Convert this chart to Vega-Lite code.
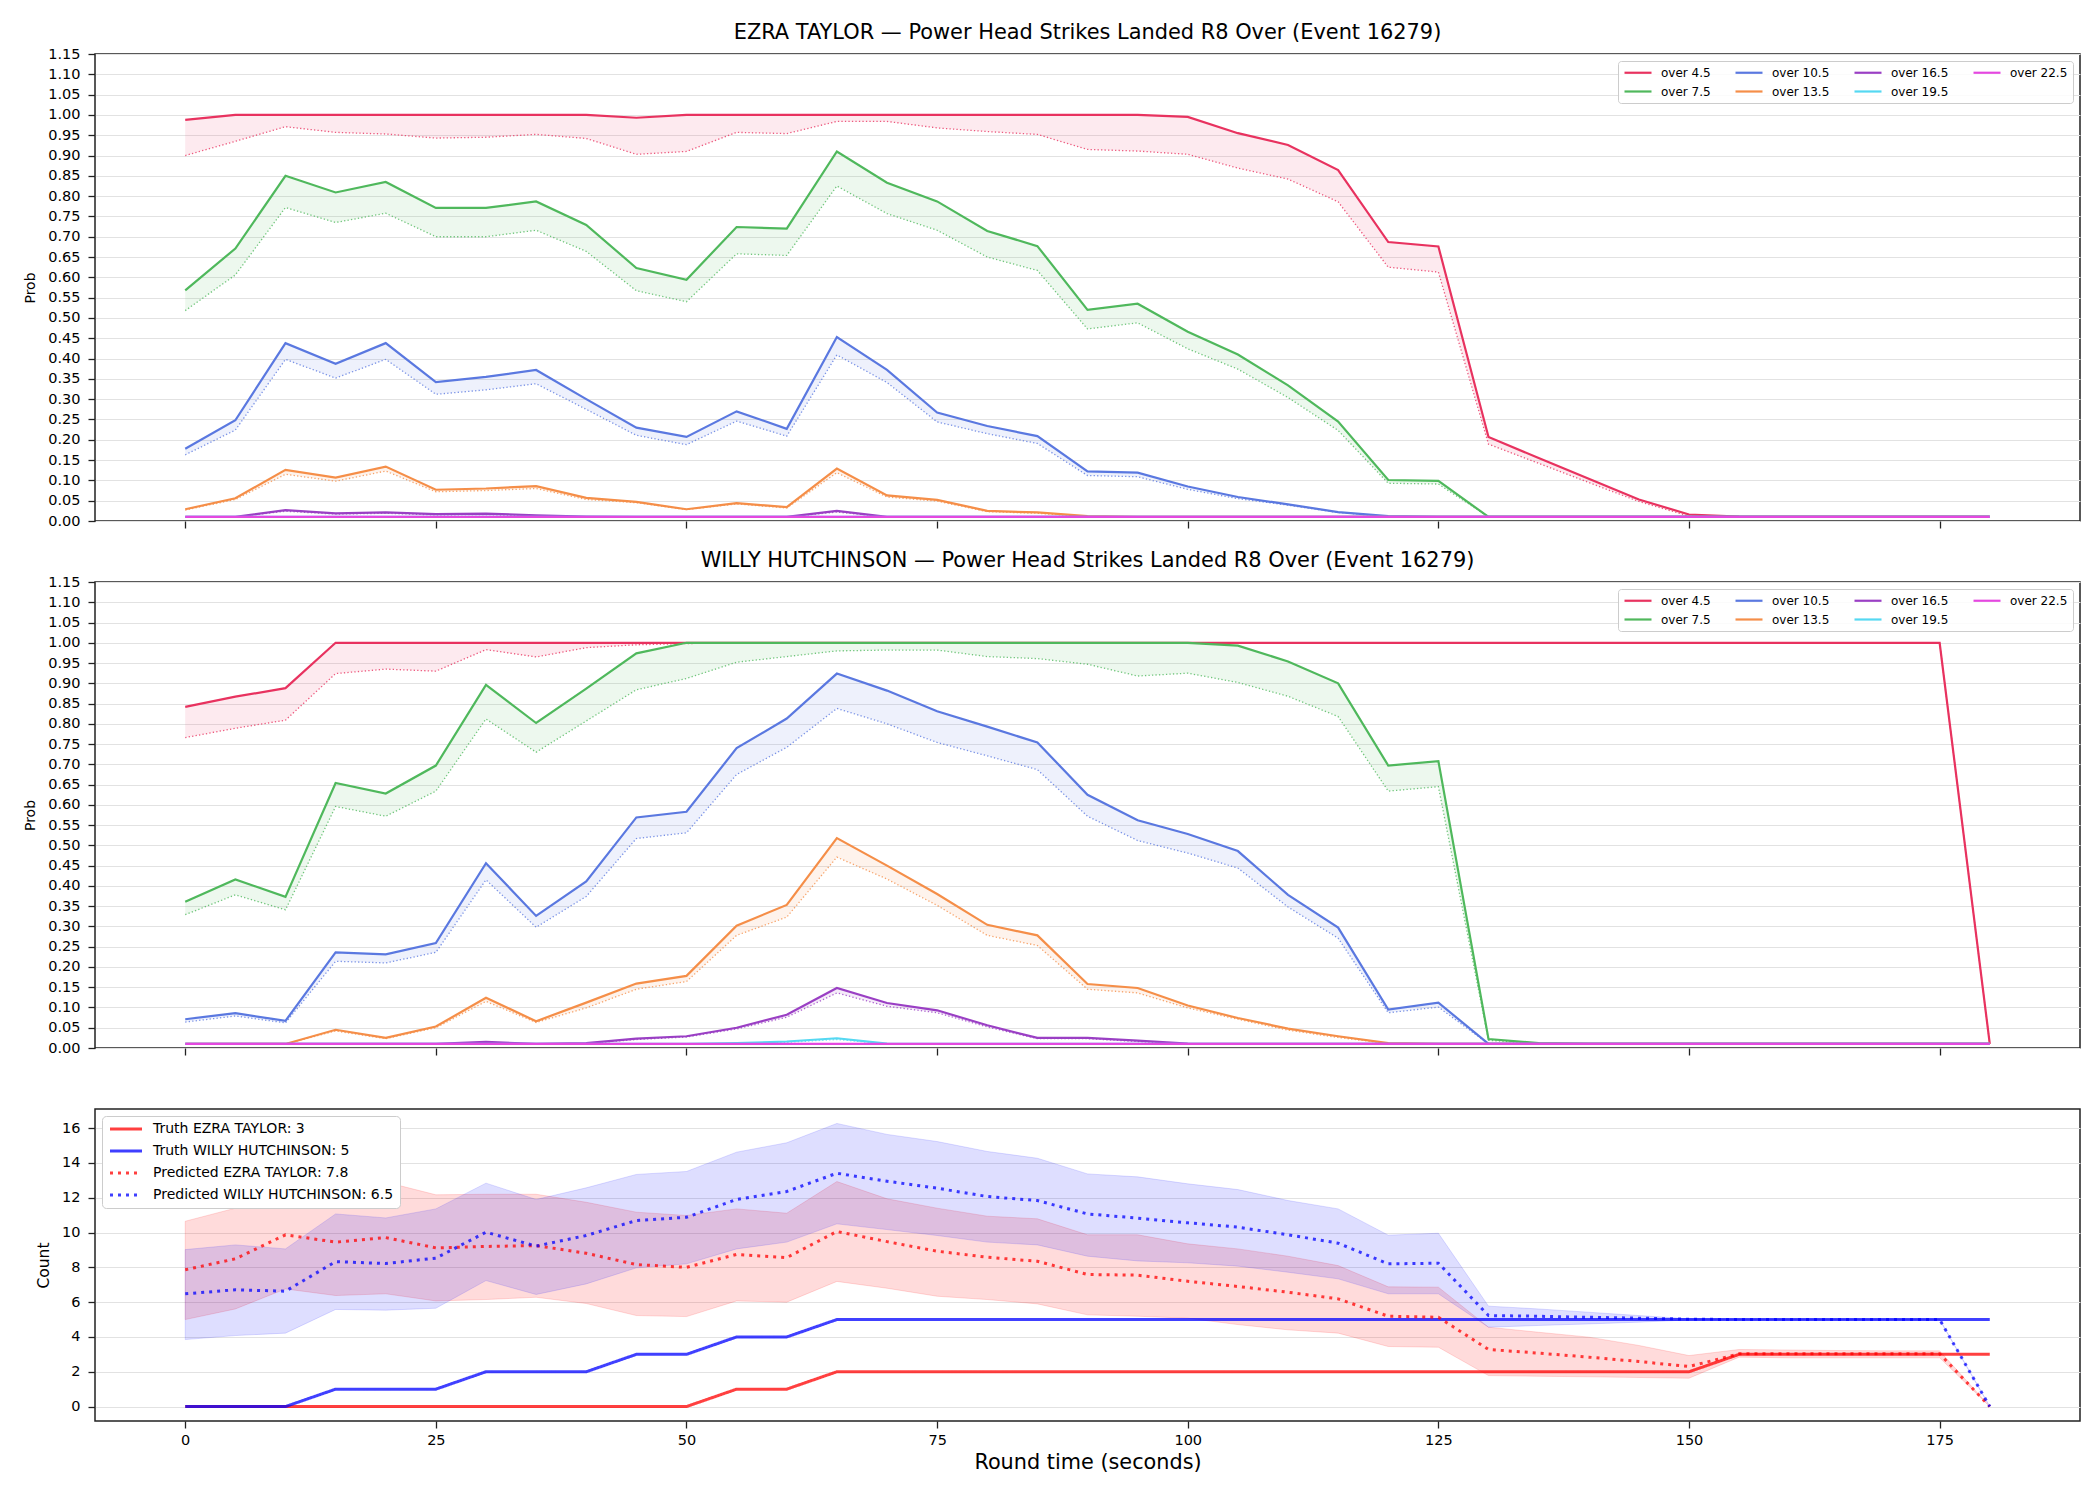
{
"$schema": "https://vega.github.io/schema/vega-lite/v6.json",
"background": "white",
"padding": {"left": 22, "top": 21, "right": 5, "bottom": 5},
"config": {
 "font": "DejaVu Sans",
 "view": {"stroke": "#222222", "strokeWidth": 1.5},
 "axis": {"labelFont": "DejaVu Sans", "titleFont": "DejaVu Sans", "labelColor": "#000000", "titleColor": "#000000", "tickColor": "#222222", "tickWidth": 1.3, "tickSize": 7, "labelPadding": 8, "domain": false, "gridColor": "#e2e2e2", "gridWidth": 1, "titleFontWeight": "normal", "labelFontSize": 14.5, "titleFontSize": 14, "labelOverlap": false, "labelBound": false, "labelFlush": false},
 "title": {"font": "DejaVu Sans", "fontSize": 20.9, "fontWeight": "normal", "color": "#000000", "frame": "group", "anchor": "middle"}
},
"datasets": {
"ezra": [
{"k":"over 4.5","t":0,"v":0.988,"l":0.9},{"k":"over 4.5","t":5,"v":1,"l":0.935},{"k":"over 4.5","t":10,"v":1,"l":0.971},{"k":"over 4.5","t":15,"v":1,"l":0.957},{"k":"over 4.5","t":20,"v":1,"l":0.953},{"k":"over 4.5","t":25,"v":1,"l":0.943},{"k":"over 4.5","t":30,"v":1,"l":0.945},{"k":"over 4.5","t":35,"v":1,"l":0.952},{"k":"over 4.5","t":40,"v":1,"l":0.942},{"k":"over 4.5","t":45,"v":0.993,"l":0.903},{"k":"over 4.5","t":50,"v":1,"l":0.91},{"k":"over 4.5","t":55,"v":1,"l":0.957},{"k":"over 4.5","t":60,"v":1,"l":0.954},{"k":"over 4.5","t":65,"v":1,"l":0.984},{"k":"over 4.5","t":70,"v":1,"l":0.984},{"k":"over 4.5","t":75,"v":1,"l":0.968},{"k":"over 4.5","t":80,"v":1,"l":0.959},{"k":"over 4.5","t":85,"v":1,"l":0.952},{"k":"over 4.5","t":90,"v":1,"l":0.915},{"k":"over 4.5","t":95,"v":1,"l":0.911},{"k":"over 4.5","t":100,"v":0.995,"l":0.903},{"k":"over 4.5","t":105,"v":0.955,"l":0.869},{"k":"over 4.5","t":110,"v":0.926,"l":0.842},{"k":"over 4.5","t":115,"v":0.864,"l":0.786},{"k":"over 4.5","t":120,"v":0.687,"l":0.625},{"k":"over 4.5","t":125,"v":0.676,"l":0.613},{"k":"over 4.5","t":130,"v":0.207,"l":0.189},{"k":"over 4.5","t":135,"v":0.155,"l":0.142},{"k":"over 4.5","t":140,"v":0.104,"l":0.095},{"k":"over 4.5","t":145,"v":0.053,"l":0.048},{"k":"over 4.5","t":150,"v":0.016,"l":0.012},{"k":"over 4.5","t":155,"v":0.011,"l":0.01},{"k":"over 4.5","t":160,"v":0.01,"l":0.01},{"k":"over 4.5","t":165,"v":0.01,"l":0.01},{"k":"over 4.5","t":170,"v":0.01,"l":0.01},{"k":"over 4.5","t":175,"v":0.01,"l":0.01},{"k":"over 4.5","t":180,"v":0.01,"l":0.01},
{"k":"over 7.5","t":0,"v":0.568,"l":0.518},{"k":"over 7.5","t":5,"v":0.671,"l":0.606},{"k":"over 7.5","t":10,"v":0.85,"l":0.772},{"k":"over 7.5","t":15,"v":0.809,"l":0.735},{"k":"over 7.5","t":20,"v":0.835,"l":0.758},{"k":"over 7.5","t":25,"v":0.771,"l":0.7},{"k":"over 7.5","t":30,"v":0.771,"l":0.7},{"k":"over 7.5","t":35,"v":0.787,"l":0.716},{"k":"over 7.5","t":40,"v":0.729,"l":0.664},{"k":"over 7.5","t":45,"v":0.623,"l":0.567},{"k":"over 7.5","t":50,"v":0.594,"l":0.54},{"k":"over 7.5","t":55,"v":0.724,"l":0.658},{"k":"over 7.5","t":60,"v":0.72,"l":0.654},{"k":"over 7.5","t":65,"v":0.91,"l":0.825},{"k":"over 7.5","t":70,"v":0.833,"l":0.757},{"k":"over 7.5","t":75,"v":0.787,"l":0.716},{"k":"over 7.5","t":80,"v":0.714,"l":0.65},{"k":"over 7.5","t":85,"v":0.677,"l":0.617},{"k":"over 7.5","t":90,"v":0.52,"l":0.473},{"k":"over 7.5","t":95,"v":0.535,"l":0.488},{"k":"over 7.5","t":100,"v":0.466,"l":0.424},{"k":"over 7.5","t":105,"v":0.41,"l":0.374},{"k":"over 7.5","t":110,"v":0.334,"l":0.304},{"k":"over 7.5","t":115,"v":0.245,"l":0.223},{"k":"over 7.5","t":120,"v":0.101,"l":0.093},{"k":"over 7.5","t":125,"v":0.099,"l":0.091},{"k":"over 7.5","t":130,"v":0.01,"l":0.01},{"k":"over 7.5","t":135,"v":0.01,"l":0.01},{"k":"over 7.5","t":140,"v":0.01,"l":0.01},{"k":"over 7.5","t":145,"v":0.01,"l":0.01},{"k":"over 7.5","t":150,"v":0.01,"l":0.01},{"k":"over 7.5","t":155,"v":0.01,"l":0.01},{"k":"over 7.5","t":160,"v":0.01,"l":0.01},{"k":"over 7.5","t":165,"v":0.01,"l":0.01},{"k":"over 7.5","t":170,"v":0.01,"l":0.01},{"k":"over 7.5","t":175,"v":0.01,"l":0.01},{"k":"over 7.5","t":180,"v":0.01,"l":0.01},
{"k":"over 10.5","t":0,"v":0.178,"l":0.163},{"k":"over 10.5","t":5,"v":0.248,"l":0.224},{"k":"over 10.5","t":10,"v":0.438,"l":0.398},{"k":"over 10.5","t":15,"v":0.387,"l":0.352},{"k":"over 10.5","t":20,"v":0.438,"l":0.398},{"k":"over 10.5","t":25,"v":0.342,"l":0.312},{"k":"over 10.5","t":30,"v":0.355,"l":0.323},{"k":"over 10.5","t":35,"v":0.372,"l":0.338},{"k":"over 10.5","t":40,"v":0.3,"l":0.275},{"k":"over 10.5","t":45,"v":0.23,"l":0.211},{"k":"over 10.5","t":50,"v":0.207,"l":0.188},{"k":"over 10.5","t":55,"v":0.27,"l":0.246},{"k":"over 10.5","t":60,"v":0.227,"l":0.209},{"k":"over 10.5","t":65,"v":0.453,"l":0.409},{"k":"over 10.5","t":70,"v":0.372,"l":0.341},{"k":"over 10.5","t":75,"v":0.267,"l":0.244},{"k":"over 10.5","t":80,"v":0.234,"l":0.215},{"k":"over 10.5","t":85,"v":0.209,"l":0.191},{"k":"over 10.5","t":90,"v":0.122,"l":0.112},{"k":"over 10.5","t":95,"v":0.119,"l":0.109},{"k":"over 10.5","t":100,"v":0.085,"l":0.078},{"k":"over 10.5","t":105,"v":0.059,"l":0.055},{"k":"over 10.5","t":110,"v":0.041,"l":0.039},{"k":"over 10.5","t":115,"v":0.022,"l":0.021},{"k":"over 10.5","t":120,"v":0.012,"l":0.011},{"k":"over 10.5","t":125,"v":0.01,"l":0.01},{"k":"over 10.5","t":130,"v":0.01,"l":0.01},{"k":"over 10.5","t":135,"v":0.01,"l":0.01},{"k":"over 10.5","t":140,"v":0.01,"l":0.01},{"k":"over 10.5","t":145,"v":0.01,"l":0.01},{"k":"over 10.5","t":150,"v":0.01,"l":0.01},{"k":"over 10.5","t":155,"v":0.01,"l":0.01},{"k":"over 10.5","t":160,"v":0.01,"l":0.01},{"k":"over 10.5","t":165,"v":0.01,"l":0.01},{"k":"over 10.5","t":170,"v":0.01,"l":0.01},{"k":"over 10.5","t":175,"v":0.01,"l":0.01},{"k":"over 10.5","t":180,"v":0.01,"l":0.01},
{"k":"over 13.5","t":0,"v":0.029,"l":0.027},{"k":"over 13.5","t":5,"v":0.056,"l":0.053},{"k":"over 13.5","t":10,"v":0.126,"l":0.115},{"k":"over 13.5","t":15,"v":0.107,"l":0.098},{"k":"over 13.5","t":20,"v":0.134,"l":0.123},{"k":"over 13.5","t":25,"v":0.077,"l":0.072},{"k":"over 13.5","t":30,"v":0.08,"l":0.075},{"k":"over 13.5","t":35,"v":0.086,"l":0.08},{"k":"over 13.5","t":40,"v":0.057,"l":0.053},{"k":"over 13.5","t":45,"v":0.047,"l":0.045},{"k":"over 13.5","t":50,"v":0.029,"l":0.028},{"k":"over 13.5","t":55,"v":0.044,"l":0.042},{"k":"over 13.5","t":60,"v":0.034,"l":0.032},{"k":"over 13.5","t":65,"v":0.129,"l":0.119},{"k":"over 13.5","t":70,"v":0.063,"l":0.059},{"k":"over 13.5","t":75,"v":0.052,"l":0.049},{"k":"over 13.5","t":80,"v":0.025,"l":0.023},{"k":"over 13.5","t":85,"v":0.021,"l":0.019},{"k":"over 13.5","t":90,"v":0.012,"l":0.011},{"k":"over 13.5","t":95,"v":0.01,"l":0.01},{"k":"over 13.5","t":100,"v":0.01,"l":0.01},{"k":"over 13.5","t":105,"v":0.01,"l":0.01},{"k":"over 13.5","t":110,"v":0.01,"l":0.01},{"k":"over 13.5","t":115,"v":0.01,"l":0.01},{"k":"over 13.5","t":120,"v":0.01,"l":0.01},{"k":"over 13.5","t":125,"v":0.01,"l":0.01},{"k":"over 13.5","t":130,"v":0.01,"l":0.01},{"k":"over 13.5","t":135,"v":0.01,"l":0.01},{"k":"over 13.5","t":140,"v":0.01,"l":0.01},{"k":"over 13.5","t":145,"v":0.01,"l":0.01},{"k":"over 13.5","t":150,"v":0.01,"l":0.01},{"k":"over 13.5","t":155,"v":0.01,"l":0.01},{"k":"over 13.5","t":160,"v":0.01,"l":0.01},{"k":"over 13.5","t":165,"v":0.01,"l":0.01},{"k":"over 13.5","t":170,"v":0.01,"l":0.01},{"k":"over 13.5","t":175,"v":0.01,"l":0.01},{"k":"over 13.5","t":180,"v":0.01,"l":0.01},
{"k":"over 16.5","t":0,"v":0.01,"l":0.01},{"k":"over 16.5","t":5,"v":0.01,"l":0.01},{"k":"over 16.5","t":10,"v":0.027,"l":0.024},{"k":"over 16.5","t":15,"v":0.019,"l":0.017},{"k":"over 16.5","t":20,"v":0.021,"l":0.019},{"k":"over 16.5","t":25,"v":0.017,"l":0.015},{"k":"over 16.5","t":30,"v":0.018,"l":0.016},{"k":"over 16.5","t":35,"v":0.014,"l":0.012},{"k":"over 16.5","t":40,"v":0.011,"l":0.01},{"k":"over 16.5","t":45,"v":0.01,"l":0.01},{"k":"over 16.5","t":50,"v":0.01,"l":0.01},{"k":"over 16.5","t":55,"v":0.01,"l":0.01},{"k":"over 16.5","t":60,"v":0.01,"l":0.01},{"k":"over 16.5","t":65,"v":0.025,"l":0.022},{"k":"over 16.5","t":70,"v":0.01,"l":0.01},{"k":"over 16.5","t":75,"v":0.01,"l":0.01},{"k":"over 16.5","t":80,"v":0.01,"l":0.01},{"k":"over 16.5","t":85,"v":0.01,"l":0.01},{"k":"over 16.5","t":90,"v":0.01,"l":0.01},{"k":"over 16.5","t":95,"v":0.01,"l":0.01},{"k":"over 16.5","t":100,"v":0.01,"l":0.01},{"k":"over 16.5","t":105,"v":0.01,"l":0.01},{"k":"over 16.5","t":110,"v":0.01,"l":0.01},{"k":"over 16.5","t":115,"v":0.01,"l":0.01},{"k":"over 16.5","t":120,"v":0.01,"l":0.01},{"k":"over 16.5","t":125,"v":0.01,"l":0.01},{"k":"over 16.5","t":130,"v":0.01,"l":0.01},{"k":"over 16.5","t":135,"v":0.01,"l":0.01},{"k":"over 16.5","t":140,"v":0.01,"l":0.01},{"k":"over 16.5","t":145,"v":0.01,"l":0.01},{"k":"over 16.5","t":150,"v":0.01,"l":0.01},{"k":"over 16.5","t":155,"v":0.01,"l":0.01},{"k":"over 16.5","t":160,"v":0.01,"l":0.01},{"k":"over 16.5","t":165,"v":0.01,"l":0.01},{"k":"over 16.5","t":170,"v":0.01,"l":0.01},{"k":"over 16.5","t":175,"v":0.01,"l":0.01},{"k":"over 16.5","t":180,"v":0.01,"l":0.01},
{"k":"over 19.5","t":0,"v":0.01,"l":0.01},{"k":"over 19.5","t":5,"v":0.01,"l":0.01},{"k":"over 19.5","t":10,"v":0.01,"l":0.01},{"k":"over 19.5","t":15,"v":0.01,"l":0.01},{"k":"over 19.5","t":20,"v":0.01,"l":0.01},{"k":"over 19.5","t":25,"v":0.01,"l":0.01},{"k":"over 19.5","t":30,"v":0.01,"l":0.01},{"k":"over 19.5","t":35,"v":0.01,"l":0.01},{"k":"over 19.5","t":40,"v":0.01,"l":0.01},{"k":"over 19.5","t":45,"v":0.01,"l":0.01},{"k":"over 19.5","t":50,"v":0.01,"l":0.01},{"k":"over 19.5","t":55,"v":0.01,"l":0.01},{"k":"over 19.5","t":60,"v":0.01,"l":0.01},{"k":"over 19.5","t":65,"v":0.01,"l":0.01},{"k":"over 19.5","t":70,"v":0.01,"l":0.01},{"k":"over 19.5","t":75,"v":0.01,"l":0.01},{"k":"over 19.5","t":80,"v":0.01,"l":0.01},{"k":"over 19.5","t":85,"v":0.01,"l":0.01},{"k":"over 19.5","t":90,"v":0.01,"l":0.01},{"k":"over 19.5","t":95,"v":0.01,"l":0.01},{"k":"over 19.5","t":100,"v":0.01,"l":0.01},{"k":"over 19.5","t":105,"v":0.01,"l":0.01},{"k":"over 19.5","t":110,"v":0.01,"l":0.01},{"k":"over 19.5","t":115,"v":0.01,"l":0.01},{"k":"over 19.5","t":120,"v":0.01,"l":0.01},{"k":"over 19.5","t":125,"v":0.01,"l":0.01},{"k":"over 19.5","t":130,"v":0.01,"l":0.01},{"k":"over 19.5","t":135,"v":0.01,"l":0.01},{"k":"over 19.5","t":140,"v":0.01,"l":0.01},{"k":"over 19.5","t":145,"v":0.01,"l":0.01},{"k":"over 19.5","t":150,"v":0.01,"l":0.01},{"k":"over 19.5","t":155,"v":0.01,"l":0.01},{"k":"over 19.5","t":160,"v":0.01,"l":0.01},{"k":"over 19.5","t":165,"v":0.01,"l":0.01},{"k":"over 19.5","t":170,"v":0.01,"l":0.01},{"k":"over 19.5","t":175,"v":0.01,"l":0.01},{"k":"over 19.5","t":180,"v":0.01,"l":0.01},
{"k":"over 22.5","t":0,"v":0.01,"l":0.01},{"k":"over 22.5","t":5,"v":0.01,"l":0.01},{"k":"over 22.5","t":10,"v":0.01,"l":0.01},{"k":"over 22.5","t":15,"v":0.01,"l":0.01},{"k":"over 22.5","t":20,"v":0.01,"l":0.01},{"k":"over 22.5","t":25,"v":0.01,"l":0.01},{"k":"over 22.5","t":30,"v":0.01,"l":0.01},{"k":"over 22.5","t":35,"v":0.01,"l":0.01},{"k":"over 22.5","t":40,"v":0.01,"l":0.01},{"k":"over 22.5","t":45,"v":0.01,"l":0.01},{"k":"over 22.5","t":50,"v":0.01,"l":0.01},{"k":"over 22.5","t":55,"v":0.01,"l":0.01},{"k":"over 22.5","t":60,"v":0.01,"l":0.01},{"k":"over 22.5","t":65,"v":0.01,"l":0.01},{"k":"over 22.5","t":70,"v":0.01,"l":0.01},{"k":"over 22.5","t":75,"v":0.01,"l":0.01},{"k":"over 22.5","t":80,"v":0.01,"l":0.01},{"k":"over 22.5","t":85,"v":0.01,"l":0.01},{"k":"over 22.5","t":90,"v":0.01,"l":0.01},{"k":"over 22.5","t":95,"v":0.01,"l":0.01},{"k":"over 22.5","t":100,"v":0.01,"l":0.01},{"k":"over 22.5","t":105,"v":0.01,"l":0.01},{"k":"over 22.5","t":110,"v":0.01,"l":0.01},{"k":"over 22.5","t":115,"v":0.01,"l":0.01},{"k":"over 22.5","t":120,"v":0.01,"l":0.01},{"k":"over 22.5","t":125,"v":0.01,"l":0.01},{"k":"over 22.5","t":130,"v":0.01,"l":0.01},{"k":"over 22.5","t":135,"v":0.01,"l":0.01},{"k":"over 22.5","t":140,"v":0.01,"l":0.01},{"k":"over 22.5","t":145,"v":0.01,"l":0.01},{"k":"over 22.5","t":150,"v":0.01,"l":0.01},{"k":"over 22.5","t":155,"v":0.01,"l":0.01},{"k":"over 22.5","t":160,"v":0.01,"l":0.01},{"k":"over 22.5","t":165,"v":0.01,"l":0.01},{"k":"over 22.5","t":170,"v":0.01,"l":0.01},{"k":"over 22.5","t":175,"v":0.01,"l":0.01},{"k":"over 22.5","t":180,"v":0.01,"l":0.01}
],
"willy": [
{"k":"over 4.5","t":0,"v":0.842,"l":0.766},{"k":"over 4.5","t":5,"v":0.867,"l":0.789},{"k":"over 4.5","t":10,"v":0.888,"l":0.809},{"k":"over 4.5","t":15,"v":1,"l":0.924},{"k":"over 4.5","t":20,"v":1,"l":0.935},{"k":"over 4.5","t":25,"v":1,"l":0.93},{"k":"over 4.5","t":30,"v":1,"l":0.983},{"k":"over 4.5","t":35,"v":1,"l":0.965},{"k":"over 4.5","t":40,"v":1,"l":0.988},{"k":"over 4.5","t":45,"v":1,"l":0.995},{"k":"over 4.5","t":50,"v":1,"l":0.998},{"k":"over 4.5","t":55,"v":1,"l":1},{"k":"over 4.5","t":60,"v":1,"l":1},{"k":"over 4.5","t":65,"v":1,"l":1},{"k":"over 4.5","t":70,"v":1,"l":1},{"k":"over 4.5","t":75,"v":1,"l":1},{"k":"over 4.5","t":80,"v":1,"l":1},{"k":"over 4.5","t":85,"v":1,"l":1},{"k":"over 4.5","t":90,"v":1,"l":1},{"k":"over 4.5","t":95,"v":1,"l":1},{"k":"over 4.5","t":100,"v":1,"l":1},{"k":"over 4.5","t":105,"v":1,"l":1},{"k":"over 4.5","t":110,"v":1,"l":1},{"k":"over 4.5","t":115,"v":1,"l":1},{"k":"over 4.5","t":120,"v":1,"l":1},{"k":"over 4.5","t":125,"v":1,"l":1},{"k":"over 4.5","t":130,"v":1,"l":1},{"k":"over 4.5","t":135,"v":1,"l":1},{"k":"over 4.5","t":140,"v":1,"l":1},{"k":"over 4.5","t":145,"v":1,"l":1},{"k":"over 4.5","t":150,"v":1,"l":1},{"k":"over 4.5","t":155,"v":1,"l":1},{"k":"over 4.5","t":160,"v":1,"l":1},{"k":"over 4.5","t":165,"v":1,"l":1},{"k":"over 4.5","t":170,"v":1,"l":1},{"k":"over 4.5","t":175,"v":1,"l":1},{"k":"over 4.5","t":180,"v":0.01,"l":0.01},
{"k":"over 7.5","t":0,"v":0.361,"l":0.329},{"k":"over 7.5","t":5,"v":0.416,"l":0.378},{"k":"over 7.5","t":10,"v":0.373,"l":0.341},{"k":"over 7.5","t":15,"v":0.654,"l":0.596},{"k":"over 7.5","t":20,"v":0.628,"l":0.572},{"k":"over 7.5","t":25,"v":0.697,"l":0.634},{"k":"over 7.5","t":30,"v":0.896,"l":0.812},{"k":"over 7.5","t":35,"v":0.802,"l":0.73},{"k":"over 7.5","t":40,"v":0.887,"l":0.807},{"k":"over 7.5","t":45,"v":0.974,"l":0.884},{"k":"over 7.5","t":50,"v":1,"l":0.912},{"k":"over 7.5","t":55,"v":1,"l":0.952},{"k":"over 7.5","t":60,"v":1,"l":0.966},{"k":"over 7.5","t":65,"v":1,"l":0.98},{"k":"over 7.5","t":70,"v":1,"l":0.982},{"k":"over 7.5","t":75,"v":1,"l":0.982},{"k":"over 7.5","t":80,"v":1,"l":0.966},{"k":"over 7.5","t":85,"v":1,"l":0.961},{"k":"over 7.5","t":90,"v":1,"l":0.947},{"k":"over 7.5","t":95,"v":1,"l":0.918},{"k":"over 7.5","t":100,"v":1,"l":0.925},{"k":"over 7.5","t":105,"v":0.993,"l":0.902},{"k":"over 7.5","t":110,"v":0.954,"l":0.868},{"k":"over 7.5","t":115,"v":0.9,"l":0.818},{"k":"over 7.5","t":120,"v":0.697,"l":0.634},{"k":"over 7.5","t":125,"v":0.708,"l":0.645},{"k":"over 7.5","t":130,"v":0.022,"l":0.019},{"k":"over 7.5","t":135,"v":0.012,"l":0.011},{"k":"over 7.5","t":140,"v":0.01,"l":0.01},{"k":"over 7.5","t":145,"v":0.01,"l":0.01},{"k":"over 7.5","t":150,"v":0.01,"l":0.01},{"k":"over 7.5","t":155,"v":0.01,"l":0.01},{"k":"over 7.5","t":160,"v":0.01,"l":0.01},{"k":"over 7.5","t":165,"v":0.01,"l":0.01},{"k":"over 7.5","t":170,"v":0.01,"l":0.01},{"k":"over 7.5","t":175,"v":0.01,"l":0.01},{"k":"over 7.5","t":180,"v":0.01,"l":0.01},
{"k":"over 10.5","t":0,"v":0.071,"l":0.064},{"k":"over 10.5","t":5,"v":0.086,"l":0.079},{"k":"over 10.5","t":10,"v":0.067,"l":0.062},{"k":"over 10.5","t":15,"v":0.236,"l":0.214},{"k":"over 10.5","t":20,"v":0.231,"l":0.21},{"k":"over 10.5","t":25,"v":0.259,"l":0.236},{"k":"over 10.5","t":30,"v":0.456,"l":0.415},{"k":"over 10.5","t":35,"v":0.326,"l":0.298},{"k":"over 10.5","t":40,"v":0.411,"l":0.374},{"k":"over 10.5","t":45,"v":0.569,"l":0.517},{"k":"over 10.5","t":50,"v":0.583,"l":0.531},{"k":"over 10.5","t":55,"v":0.74,"l":0.675},{"k":"over 10.5","t":60,"v":0.813,"l":0.742},{"k":"over 10.5","t":65,"v":0.924,"l":0.838},{"k":"over 10.5","t":70,"v":0.882,"l":0.8},{"k":"over 10.5","t":75,"v":0.831,"l":0.754},{"k":"over 10.5","t":80,"v":0.793,"l":0.721},{"k":"over 10.5","t":85,"v":0.754,"l":0.687},{"k":"over 10.5","t":90,"v":0.625,"l":0.572},{"k":"over 10.5","t":95,"v":0.562,"l":0.512},{"k":"over 10.5","t":100,"v":0.528,"l":0.481},{"k":"over 10.5","t":105,"v":0.486,"l":0.444},{"k":"over 10.5","t":110,"v":0.378,"l":0.348},{"k":"over 10.5","t":115,"v":0.297,"l":0.271},{"k":"over 10.5","t":120,"v":0.095,"l":0.087},{"k":"over 10.5","t":125,"v":0.112,"l":0.101},{"k":"over 10.5","t":130,"v":0.01,"l":0.01},{"k":"over 10.5","t":135,"v":0.01,"l":0.01},{"k":"over 10.5","t":140,"v":0.01,"l":0.01},{"k":"over 10.5","t":145,"v":0.01,"l":0.01},{"k":"over 10.5","t":150,"v":0.01,"l":0.01},{"k":"over 10.5","t":155,"v":0.01,"l":0.01},{"k":"over 10.5","t":160,"v":0.01,"l":0.01},{"k":"over 10.5","t":165,"v":0.01,"l":0.01},{"k":"over 10.5","t":170,"v":0.01,"l":0.01},{"k":"over 10.5","t":175,"v":0.01,"l":0.01},{"k":"over 10.5","t":180,"v":0.01,"l":0.01},
{"k":"over 13.5","t":0,"v":0.01,"l":0.01},{"k":"over 13.5","t":5,"v":0.01,"l":0.01},{"k":"over 13.5","t":10,"v":0.01,"l":0.01},{"k":"over 13.5","t":15,"v":0.045,"l":0.042},{"k":"over 13.5","t":20,"v":0.025,"l":0.023},{"k":"over 13.5","t":25,"v":0.053,"l":0.05},{"k":"over 13.5","t":30,"v":0.124,"l":0.115},{"k":"over 13.5","t":35,"v":0.066,"l":0.063},{"k":"over 13.5","t":40,"v":0.112,"l":0.099},{"k":"over 13.5","t":45,"v":0.159,"l":0.145},{"k":"over 13.5","t":50,"v":0.178,"l":0.164},{"k":"over 13.5","t":55,"v":0.302,"l":0.278},{"k":"over 13.5","t":60,"v":0.353,"l":0.323},{"k":"over 13.5","t":65,"v":0.518,"l":0.471},{"k":"over 13.5","t":70,"v":0.45,"l":0.417},{"k":"over 13.5","t":75,"v":0.38,"l":0.352},{"k":"over 13.5","t":80,"v":0.304,"l":0.278},{"k":"over 13.5","t":85,"v":0.278,"l":0.253},{"k":"over 13.5","t":90,"v":0.158,"l":0.145},{"k":"over 13.5","t":95,"v":0.148,"l":0.136},{"k":"over 13.5","t":100,"v":0.105,"l":0.099},{"k":"over 13.5","t":105,"v":0.074,"l":0.071},{"k":"over 13.5","t":110,"v":0.048,"l":0.044},{"k":"over 13.5","t":115,"v":0.029,"l":0.026},{"k":"over 13.5","t":120,"v":0.012,"l":0.011},{"k":"over 13.5","t":125,"v":0.01,"l":0.01},{"k":"over 13.5","t":130,"v":0.01,"l":0.01},{"k":"over 13.5","t":135,"v":0.01,"l":0.01},{"k":"over 13.5","t":140,"v":0.01,"l":0.01},{"k":"over 13.5","t":145,"v":0.01,"l":0.01},{"k":"over 13.5","t":150,"v":0.01,"l":0.01},{"k":"over 13.5","t":155,"v":0.01,"l":0.01},{"k":"over 13.5","t":160,"v":0.01,"l":0.01},{"k":"over 13.5","t":165,"v":0.01,"l":0.01},{"k":"over 13.5","t":170,"v":0.01,"l":0.01},{"k":"over 13.5","t":175,"v":0.01,"l":0.01},{"k":"over 13.5","t":180,"v":0.01,"l":0.01},
{"k":"over 16.5","t":0,"v":0.01,"l":0.01},{"k":"over 16.5","t":5,"v":0.01,"l":0.01},{"k":"over 16.5","t":10,"v":0.01,"l":0.01},{"k":"over 16.5","t":15,"v":0.01,"l":0.01},{"k":"over 16.5","t":20,"v":0.01,"l":0.01},{"k":"over 16.5","t":25,"v":0.01,"l":0.01},{"k":"over 16.5","t":30,"v":0.015,"l":0.013},{"k":"over 16.5","t":35,"v":0.01,"l":0.01},{"k":"over 16.5","t":40,"v":0.012,"l":0.011},{"k":"over 16.5","t":45,"v":0.023,"l":0.021},{"k":"over 16.5","t":50,"v":0.029,"l":0.027},{"k":"over 16.5","t":55,"v":0.05,"l":0.047},{"k":"over 16.5","t":60,"v":0.082,"l":0.076},{"k":"over 16.5","t":65,"v":0.148,"l":0.136},{"k":"over 16.5","t":70,"v":0.111,"l":0.103},{"k":"over 16.5","t":75,"v":0.093,"l":0.087},{"k":"over 16.5","t":80,"v":0.056,"l":0.052},{"k":"over 16.5","t":85,"v":0.025,"l":0.023},{"k":"over 16.5","t":90,"v":0.025,"l":0.023},{"k":"over 16.5","t":95,"v":0.018,"l":0.016},{"k":"over 16.5","t":100,"v":0.011,"l":0.01},{"k":"over 16.5","t":105,"v":0.01,"l":0.01},{"k":"over 16.5","t":110,"v":0.01,"l":0.01},{"k":"over 16.5","t":115,"v":0.01,"l":0.01},{"k":"over 16.5","t":120,"v":0.01,"l":0.01},{"k":"over 16.5","t":125,"v":0.01,"l":0.01},{"k":"over 16.5","t":130,"v":0.01,"l":0.01},{"k":"over 16.5","t":135,"v":0.01,"l":0.01},{"k":"over 16.5","t":140,"v":0.01,"l":0.01},{"k":"over 16.5","t":145,"v":0.01,"l":0.01},{"k":"over 16.5","t":150,"v":0.01,"l":0.01},{"k":"over 16.5","t":155,"v":0.01,"l":0.01},{"k":"over 16.5","t":160,"v":0.01,"l":0.01},{"k":"over 16.5","t":165,"v":0.01,"l":0.01},{"k":"over 16.5","t":170,"v":0.01,"l":0.01},{"k":"over 16.5","t":175,"v":0.01,"l":0.01},{"k":"over 16.5","t":180,"v":0.01,"l":0.01},
{"k":"over 19.5","t":0,"v":0.01,"l":0.01},{"k":"over 19.5","t":5,"v":0.01,"l":0.01},{"k":"over 19.5","t":10,"v":0.01,"l":0.01},{"k":"over 19.5","t":15,"v":0.01,"l":0.01},{"k":"over 19.5","t":20,"v":0.01,"l":0.01},{"k":"over 19.5","t":25,"v":0.01,"l":0.01},{"k":"over 19.5","t":30,"v":0.01,"l":0.01},{"k":"over 19.5","t":35,"v":0.01,"l":0.01},{"k":"over 19.5","t":40,"v":0.01,"l":0.01},{"k":"over 19.5","t":45,"v":0.01,"l":0.01},{"k":"over 19.5","t":50,"v":0.01,"l":0.01},{"k":"over 19.5","t":55,"v":0.012,"l":0.011},{"k":"over 19.5","t":60,"v":0.016,"l":0.014},{"k":"over 19.5","t":65,"v":0.024,"l":0.021},{"k":"over 19.5","t":70,"v":0.011,"l":0.01},{"k":"over 19.5","t":75,"v":0.01,"l":0.01},{"k":"over 19.5","t":80,"v":0.01,"l":0.01},{"k":"over 19.5","t":85,"v":0.01,"l":0.01},{"k":"over 19.5","t":90,"v":0.01,"l":0.01},{"k":"over 19.5","t":95,"v":0.01,"l":0.01},{"k":"over 19.5","t":100,"v":0.01,"l":0.01},{"k":"over 19.5","t":105,"v":0.01,"l":0.01},{"k":"over 19.5","t":110,"v":0.01,"l":0.01},{"k":"over 19.5","t":115,"v":0.01,"l":0.01},{"k":"over 19.5","t":120,"v":0.01,"l":0.01},{"k":"over 19.5","t":125,"v":0.01,"l":0.01},{"k":"over 19.5","t":130,"v":0.01,"l":0.01},{"k":"over 19.5","t":135,"v":0.01,"l":0.01},{"k":"over 19.5","t":140,"v":0.01,"l":0.01},{"k":"over 19.5","t":145,"v":0.01,"l":0.01},{"k":"over 19.5","t":150,"v":0.01,"l":0.01},{"k":"over 19.5","t":155,"v":0.01,"l":0.01},{"k":"over 19.5","t":160,"v":0.01,"l":0.01},{"k":"over 19.5","t":165,"v":0.01,"l":0.01},{"k":"over 19.5","t":170,"v":0.01,"l":0.01},{"k":"over 19.5","t":175,"v":0.01,"l":0.01},{"k":"over 19.5","t":180,"v":0.01,"l":0.01},
{"k":"over 22.5","t":0,"v":0.01,"l":0.01},{"k":"over 22.5","t":5,"v":0.01,"l":0.01},{"k":"over 22.5","t":10,"v":0.01,"l":0.01},{"k":"over 22.5","t":15,"v":0.01,"l":0.01},{"k":"over 22.5","t":20,"v":0.01,"l":0.01},{"k":"over 22.5","t":25,"v":0.01,"l":0.01},{"k":"over 22.5","t":30,"v":0.01,"l":0.01},{"k":"over 22.5","t":35,"v":0.01,"l":0.01},{"k":"over 22.5","t":40,"v":0.01,"l":0.01},{"k":"over 22.5","t":45,"v":0.01,"l":0.01},{"k":"over 22.5","t":50,"v":0.01,"l":0.01},{"k":"over 22.5","t":55,"v":0.01,"l":0.01},{"k":"over 22.5","t":60,"v":0.01,"l":0.01},{"k":"over 22.5","t":65,"v":0.01,"l":0.01},{"k":"over 22.5","t":70,"v":0.01,"l":0.01},{"k":"over 22.5","t":75,"v":0.01,"l":0.01},{"k":"over 22.5","t":80,"v":0.01,"l":0.01},{"k":"over 22.5","t":85,"v":0.01,"l":0.01},{"k":"over 22.5","t":90,"v":0.01,"l":0.01},{"k":"over 22.5","t":95,"v":0.01,"l":0.01},{"k":"over 22.5","t":100,"v":0.01,"l":0.01},{"k":"over 22.5","t":105,"v":0.01,"l":0.01},{"k":"over 22.5","t":110,"v":0.01,"l":0.01},{"k":"over 22.5","t":115,"v":0.01,"l":0.01},{"k":"over 22.5","t":120,"v":0.01,"l":0.01},{"k":"over 22.5","t":125,"v":0.01,"l":0.01},{"k":"over 22.5","t":130,"v":0.01,"l":0.01},{"k":"over 22.5","t":135,"v":0.01,"l":0.01},{"k":"over 22.5","t":140,"v":0.01,"l":0.01},{"k":"over 22.5","t":145,"v":0.01,"l":0.01},{"k":"over 22.5","t":150,"v":0.01,"l":0.01},{"k":"over 22.5","t":155,"v":0.01,"l":0.01},{"k":"over 22.5","t":160,"v":0.01,"l":0.01},{"k":"over 22.5","t":165,"v":0.01,"l":0.01},{"k":"over 22.5","t":170,"v":0.01,"l":0.01},{"k":"over 22.5","t":175,"v":0.01,"l":0.01},{"k":"over 22.5","t":180,"v":0.01,"l":0.01}
],
"bands": [
{"w":"E","t":0,"lo":5.0,"hi":10.65},{"w":"E","t":5,"lo":5.61,"hi":11.4},{"w":"E","t":10,"lo":6.76,"hi":12.9},{"w":"E","t":15,"lo":6.38,"hi":12.7},{"w":"E","t":20,"lo":6.48,"hi":12.9},{"w":"E","t":25,"lo":6.07,"hi":12.17},{"w":"E","t":30,"lo":6.15,"hi":12.2},{"w":"E","t":35,"lo":6.28,"hi":12.2},{"w":"E","t":40,"lo":5.92,"hi":11.74},{"w":"E","t":45,"lo":5.23,"hi":11.17},{"w":"E","t":50,"lo":5.17,"hi":10.98},{"w":"E","t":55,"lo":6.07,"hi":11.36},{"w":"E","t":60,"lo":6.0,"hi":11.11},{"w":"E","t":65,"lo":7.19,"hi":12.93},{"w":"E","t":70,"lo":6.8,"hi":11.94},{"w":"E","t":75,"lo":6.34,"hi":11.4},{"w":"E","t":80,"lo":6.15,"hi":10.94},{"w":"E","t":85,"lo":5.9,"hi":10.79},{"w":"E","t":90,"lo":5.27,"hi":9.87},{"w":"E","t":95,"lo":5.19,"hi":9.87},{"w":"E","t":100,"lo":5.08,"hi":9.35},{"w":"E","t":105,"lo":4.71,"hi":9.06},{"w":"E","t":110,"lo":4.41,"hi":8.64},{"w":"E","t":115,"lo":4.22,"hi":8.1},{"w":"E","t":120,"lo":3.45,"hi":6.88},{"w":"E","t":125,"lo":3.41,"hi":6.86},{"w":"E","t":130,"lo":1.78,"hi":4.56},{"w":"E","t":135,"lo":1.74,"hi":4.27},{"w":"E","t":140,"lo":1.71,"hi":3.99},{"w":"E","t":145,"lo":1.67,"hi":3.51},{"w":"E","t":150,"lo":1.63,"hi":2.93},{"w":"E","t":155,"lo":2.84,"hi":3.28},{"w":"E","t":160,"lo":2.8,"hi":3.25},{"w":"E","t":165,"lo":2.8,"hi":3.22},{"w":"E","t":170,"lo":2.8,"hi":3.2},{"w":"E","t":175,"lo":2.8,"hi":3.2},{"w":"E","t":180,"lo":0,"hi":0},
{"w":"W","t":0,"lo":3.85,"hi":9.02},{"w":"W","t":5,"lo":4.08,"hi":9.29},{"w":"W","t":10,"lo":4.22,"hi":9.06},{"w":"W","t":15,"lo":5.58,"hi":11.07},{"w":"W","t":20,"lo":5.54,"hi":10.84},{"w":"W","t":25,"lo":5.65,"hi":11.36},{"w":"W","t":30,"lo":7.24,"hi":12.84},{"w":"W","t":35,"lo":6.44,"hi":11.9},{"w":"W","t":40,"lo":7.05,"hi":12.57},{"w":"W","t":45,"lo":7.97,"hi":13.34},{"w":"W","t":50,"lo":8.2,"hi":13.51},{"w":"W","t":55,"lo":9.06,"hi":14.62},{"w":"W","t":60,"lo":9.45,"hi":15.16},{"w":"W","t":65,"lo":10.5,"hi":16.27},{"w":"W","t":70,"lo":10.17,"hi":15.64},{"w":"W","t":75,"lo":9.83,"hi":15.23},{"w":"W","t":80,"lo":9.45,"hi":14.66},{"w":"W","t":85,"lo":9.29,"hi":14.27},{"w":"W","t":90,"lo":8.64,"hi":13.37},{"w":"W","t":95,"lo":8.37,"hi":13.2},{"w":"W","t":100,"lo":8.26,"hi":12.8},{"w":"W","t":105,"lo":8.07,"hi":12.47},{"w":"W","t":110,"lo":7.72,"hi":11.84},{"w":"W","t":115,"lo":7.34,"hi":11.36},{"w":"W","t":120,"lo":6.48,"hi":9.85},{"w":"W","t":125,"lo":6.48,"hi":9.96},{"w":"W","t":130,"lo":4.56,"hi":5.77},{"w":"W","t":135,"lo":4.66,"hi":5.61},{"w":"W","t":140,"lo":4.75,"hi":5.42},{"w":"W","t":145,"lo":4.85,"hi":5.23},{"w":"W","t":150,"lo":4.98,"hi":5.04},{"w":"W","t":155,"lo":5.0,"hi":5.0},{"w":"W","t":160,"lo":5.0,"hi":5.0},{"w":"W","t":165,"lo":5.0,"hi":5.0},{"w":"W","t":170,"lo":5.0,"hi":5.0},{"w":"W","t":175,"lo":5.0,"hi":5.0},{"w":"W","t":180,"lo":0,"hi":0}
],
"lines": [
{"s":"Truth EZRA TAYLOR: 3","t":0,"v":0},{"s":"Truth EZRA TAYLOR: 3","t":5,"v":0},{"s":"Truth EZRA TAYLOR: 3","t":10,"v":0},{"s":"Truth EZRA TAYLOR: 3","t":15,"v":0},{"s":"Truth EZRA TAYLOR: 3","t":20,"v":0},{"s":"Truth EZRA TAYLOR: 3","t":25,"v":0},{"s":"Truth EZRA TAYLOR: 3","t":30,"v":0},{"s":"Truth EZRA TAYLOR: 3","t":35,"v":0},{"s":"Truth EZRA TAYLOR: 3","t":40,"v":0},{"s":"Truth EZRA TAYLOR: 3","t":45,"v":0},{"s":"Truth EZRA TAYLOR: 3","t":50,"v":0},{"s":"Truth EZRA TAYLOR: 3","t":55,"v":1},{"s":"Truth EZRA TAYLOR: 3","t":60,"v":1},{"s":"Truth EZRA TAYLOR: 3","t":65,"v":2},{"s":"Truth EZRA TAYLOR: 3","t":70,"v":2},{"s":"Truth EZRA TAYLOR: 3","t":75,"v":2},{"s":"Truth EZRA TAYLOR: 3","t":80,"v":2},{"s":"Truth EZRA TAYLOR: 3","t":85,"v":2},{"s":"Truth EZRA TAYLOR: 3","t":90,"v":2},{"s":"Truth EZRA TAYLOR: 3","t":95,"v":2},{"s":"Truth EZRA TAYLOR: 3","t":100,"v":2},{"s":"Truth EZRA TAYLOR: 3","t":105,"v":2},{"s":"Truth EZRA TAYLOR: 3","t":110,"v":2},{"s":"Truth EZRA TAYLOR: 3","t":115,"v":2},{"s":"Truth EZRA TAYLOR: 3","t":120,"v":2},{"s":"Truth EZRA TAYLOR: 3","t":125,"v":2},{"s":"Truth EZRA TAYLOR: 3","t":130,"v":2},{"s":"Truth EZRA TAYLOR: 3","t":135,"v":2},{"s":"Truth EZRA TAYLOR: 3","t":140,"v":2},{"s":"Truth EZRA TAYLOR: 3","t":145,"v":2},{"s":"Truth EZRA TAYLOR: 3","t":150,"v":2},{"s":"Truth EZRA TAYLOR: 3","t":155,"v":3},{"s":"Truth EZRA TAYLOR: 3","t":160,"v":3},{"s":"Truth EZRA TAYLOR: 3","t":165,"v":3},{"s":"Truth EZRA TAYLOR: 3","t":170,"v":3},{"s":"Truth EZRA TAYLOR: 3","t":175,"v":3},{"s":"Truth EZRA TAYLOR: 3","t":180,"v":3},
{"s":"Truth WILLY HUTCHINSON: 5","t":0,"v":0},{"s":"Truth WILLY HUTCHINSON: 5","t":5,"v":0},{"s":"Truth WILLY HUTCHINSON: 5","t":10,"v":0},{"s":"Truth WILLY HUTCHINSON: 5","t":15,"v":1},{"s":"Truth WILLY HUTCHINSON: 5","t":20,"v":1},{"s":"Truth WILLY HUTCHINSON: 5","t":25,"v":1},{"s":"Truth WILLY HUTCHINSON: 5","t":30,"v":2},{"s":"Truth WILLY HUTCHINSON: 5","t":35,"v":2},{"s":"Truth WILLY HUTCHINSON: 5","t":40,"v":2},{"s":"Truth WILLY HUTCHINSON: 5","t":45,"v":3},{"s":"Truth WILLY HUTCHINSON: 5","t":50,"v":3},{"s":"Truth WILLY HUTCHINSON: 5","t":55,"v":4},{"s":"Truth WILLY HUTCHINSON: 5","t":60,"v":4},{"s":"Truth WILLY HUTCHINSON: 5","t":65,"v":5},{"s":"Truth WILLY HUTCHINSON: 5","t":70,"v":5},{"s":"Truth WILLY HUTCHINSON: 5","t":75,"v":5},{"s":"Truth WILLY HUTCHINSON: 5","t":80,"v":5},{"s":"Truth WILLY HUTCHINSON: 5","t":85,"v":5},{"s":"Truth WILLY HUTCHINSON: 5","t":90,"v":5},{"s":"Truth WILLY HUTCHINSON: 5","t":95,"v":5},{"s":"Truth WILLY HUTCHINSON: 5","t":100,"v":5},{"s":"Truth WILLY HUTCHINSON: 5","t":105,"v":5},{"s":"Truth WILLY HUTCHINSON: 5","t":110,"v":5},{"s":"Truth WILLY HUTCHINSON: 5","t":115,"v":5},{"s":"Truth WILLY HUTCHINSON: 5","t":120,"v":5},{"s":"Truth WILLY HUTCHINSON: 5","t":125,"v":5},{"s":"Truth WILLY HUTCHINSON: 5","t":130,"v":5},{"s":"Truth WILLY HUTCHINSON: 5","t":135,"v":5},{"s":"Truth WILLY HUTCHINSON: 5","t":140,"v":5},{"s":"Truth WILLY HUTCHINSON: 5","t":145,"v":5},{"s":"Truth WILLY HUTCHINSON: 5","t":150,"v":5},{"s":"Truth WILLY HUTCHINSON: 5","t":155,"v":5},{"s":"Truth WILLY HUTCHINSON: 5","t":160,"v":5},{"s":"Truth WILLY HUTCHINSON: 5","t":165,"v":5},{"s":"Truth WILLY HUTCHINSON: 5","t":170,"v":5},{"s":"Truth WILLY HUTCHINSON: 5","t":175,"v":5},{"s":"Truth WILLY HUTCHINSON: 5","t":180,"v":5},
{"s":"Predicted EZRA TAYLOR: 7.8","t":0,"v":7.86},{"s":"Predicted EZRA TAYLOR: 7.8","t":5,"v":8.49},{"s":"Predicted EZRA TAYLOR: 7.8","t":10,"v":9.87},{"s":"Predicted EZRA TAYLOR: 7.8","t":15,"v":9.45},{"s":"Predicted EZRA TAYLOR: 7.8","t":20,"v":9.71},{"s":"Predicted EZRA TAYLOR: 7.8","t":25,"v":9.12},{"s":"Predicted EZRA TAYLOR: 7.8","t":30,"v":9.2},{"s":"Predicted EZRA TAYLOR: 7.8","t":35,"v":9.25},{"s":"Predicted EZRA TAYLOR: 7.8","t":40,"v":8.81},{"s":"Predicted EZRA TAYLOR: 7.8","t":45,"v":8.16},{"s":"Predicted EZRA TAYLOR: 7.8","t":50,"v":8.0},{"s":"Predicted EZRA TAYLOR: 7.8","t":55,"v":8.74},{"s":"Predicted EZRA TAYLOR: 7.8","t":60,"v":8.56},{"s":"Predicted EZRA TAYLOR: 7.8","t":65,"v":10.06},{"s":"Predicted EZRA TAYLOR: 7.8","t":70,"v":9.48},{"s":"Predicted EZRA TAYLOR: 7.8","t":75,"v":8.93},{"s":"Predicted EZRA TAYLOR: 7.8","t":80,"v":8.58},{"s":"Predicted EZRA TAYLOR: 7.8","t":85,"v":8.35},{"s":"Predicted EZRA TAYLOR: 7.8","t":90,"v":7.59},{"s":"Predicted EZRA TAYLOR: 7.8","t":95,"v":7.55},{"s":"Predicted EZRA TAYLOR: 7.8","t":100,"v":7.2},{"s":"Predicted EZRA TAYLOR: 7.8","t":105,"v":6.9},{"s":"Predicted EZRA TAYLOR: 7.8","t":110,"v":6.57},{"s":"Predicted EZRA TAYLOR: 7.8","t":115,"v":6.19},{"s":"Predicted EZRA TAYLOR: 7.8","t":120,"v":5.19},{"s":"Predicted EZRA TAYLOR: 7.8","t":125,"v":5.13},{"s":"Predicted EZRA TAYLOR: 7.8","t":130,"v":3.28},{"s":"Predicted EZRA TAYLOR: 7.8","t":135,"v":3.07},{"s":"Predicted EZRA TAYLOR: 7.8","t":140,"v":2.84},{"s":"Predicted EZRA TAYLOR: 7.8","t":145,"v":2.59},{"s":"Predicted EZRA TAYLOR: 7.8","t":150,"v":2.3},{"s":"Predicted EZRA TAYLOR: 7.8","t":155,"v":3.03},{"s":"Predicted EZRA TAYLOR: 7.8","t":160,"v":3.03},{"s":"Predicted EZRA TAYLOR: 7.8","t":165,"v":3.03},{"s":"Predicted EZRA TAYLOR: 7.8","t":170,"v":3.03},{"s":"Predicted EZRA TAYLOR: 7.8","t":175,"v":3.03},{"s":"Predicted EZRA TAYLOR: 7.8","t":180,"v":0},
{"s":"Predicted WILLY HUTCHINSON: 6.5","t":0,"v":6.48},{"s":"Predicted WILLY HUTCHINSON: 6.5","t":5,"v":6.71},{"s":"Predicted WILLY HUTCHINSON: 6.5","t":10,"v":6.63},{"s":"Predicted WILLY HUTCHINSON: 6.5","t":15,"v":8.33},{"s":"Predicted WILLY HUTCHINSON: 6.5","t":20,"v":8.22},{"s":"Predicted WILLY HUTCHINSON: 6.5","t":25,"v":8.53},{"s":"Predicted WILLY HUTCHINSON: 6.5","t":30,"v":10.02},{"s":"Predicted WILLY HUTCHINSON: 6.5","t":35,"v":9.22},{"s":"Predicted WILLY HUTCHINSON: 6.5","t":40,"v":9.83},{"s":"Predicted WILLY HUTCHINSON: 6.5","t":45,"v":10.69},{"s":"Predicted WILLY HUTCHINSON: 6.5","t":50,"v":10.88},{"s":"Predicted WILLY HUTCHINSON: 6.5","t":55,"v":11.9},{"s":"Predicted WILLY HUTCHINSON: 6.5","t":60,"v":12.36},{"s":"Predicted WILLY HUTCHINSON: 6.5","t":65,"v":13.41},{"s":"Predicted WILLY HUTCHINSON: 6.5","t":70,"v":12.95},{"s":"Predicted WILLY HUTCHINSON: 6.5","t":75,"v":12.55},{"s":"Predicted WILLY HUTCHINSON: 6.5","t":80,"v":12.07},{"s":"Predicted WILLY HUTCHINSON: 6.5","t":85,"v":11.84},{"s":"Predicted WILLY HUTCHINSON: 6.5","t":90,"v":11.07},{"s":"Predicted WILLY HUTCHINSON: 6.5","t":95,"v":10.83},{"s":"Predicted WILLY HUTCHINSON: 6.5","t":100,"v":10.56},{"s":"Predicted WILLY HUTCHINSON: 6.5","t":105,"v":10.31},{"s":"Predicted WILLY HUTCHINSON: 6.5","t":110,"v":9.87},{"s":"Predicted WILLY HUTCHINSON: 6.5","t":115,"v":9.39},{"s":"Predicted WILLY HUTCHINSON: 6.5","t":120,"v":8.2},{"s":"Predicted WILLY HUTCHINSON: 6.5","t":125,"v":8.24},{"s":"Predicted WILLY HUTCHINSON: 6.5","t":130,"v":5.23},{"s":"Predicted WILLY HUTCHINSON: 6.5","t":135,"v":5.19},{"s":"Predicted WILLY HUTCHINSON: 6.5","t":140,"v":5.13},{"s":"Predicted WILLY HUTCHINSON: 6.5","t":145,"v":5.08},{"s":"Predicted WILLY HUTCHINSON: 6.5","t":150,"v":5.02},{"s":"Predicted WILLY HUTCHINSON: 6.5","t":155,"v":5.0},{"s":"Predicted WILLY HUTCHINSON: 6.5","t":160,"v":5.0},{"s":"Predicted WILLY HUTCHINSON: 6.5","t":165,"v":5.0},{"s":"Predicted WILLY HUTCHINSON: 6.5","t":170,"v":5.0},{"s":"Predicted WILLY HUTCHINSON: 6.5","t":175,"v":5.0},{"s":"Predicted WILLY HUTCHINSON: 6.5","t":180,"v":0}
],
"extragrid": [{"g":5},{"g":15}]
},
"bounds": "flush",
"spacing": 61,
"resolve": {"scale": {"color": "independent", "fill": "independent", "stroke": "independent", "strokeDash": "independent", "opacity": "independent", "y": "independent"}, "legend": {"color": "independent", "strokeDash": "independent", "opacity": "independent"}},
"vconcat": [
{
 "title": {"text": "EZRA TAYLOR — Power Head Strikes Landed R8 Over (Event 16279)", "offset": 3},
 "width": 1985, "height": 467,
 "data": {"name": "ezra"},
 "encoding": {"x": {"field": "t", "type": "quantitative", "scale": {"domain": [-9, 189], "nice": false, "zero": false}, "axis": {"values": [0,25,50,75,100,125,150,175], "tickCount": 20, "labels": false, "title": null, "grid": false}}},
 "layer": [
  {"mark": {"type": "area", "fillOpacity": 0.1},
   "encoding": {
    "y": {"field": "l", "type": "quantitative", "title": "Prob", "scale": {"domain": [0, 1.15], "nice": false, "zero": false}, "axis": {"values": [0,0.05,0.1,0.15,0.2,0.25,0.3,0.35,0.4,0.45,0.5,0.55,0.6,0.65,0.7,0.75,0.8,0.85,0.9,0.95,1,1.05,1.1,1.15], "tickCount": 40, "format": ".2f", "titlePadding": 10, "grid": true, "labelOverlap": false}},
    "y2": {"field": "v"},
    "fill": {"field": "k", "type": "nominal", "scale": {"domain": ["over 7.5","over 4.5","over 13.5","over 10.5","over 19.5","over 16.5","over 22.5"], "range": ["#4fb85c","#e8325f","#f58e48","#5a78e0","#55d8f2","#9a3fc4","#e448e0"]}, "legend": null}}},
  {"mark": {"type": "line", "strokeWidth": 1.3, "strokeDash": [1.3, 2.2], "opacity": 0.8},
   "encoding": {"y": {"field": "l", "type": "quantitative", "title": "Prob"}, "stroke": {"field": "k", "type": "nominal", "scale": {"domain": ["over 22.5","over 19.5","over 16.5","over 13.5","over 10.5","over 7.5","over 4.5"], "range": ["#e448e0","#55d8f2","#9a3fc4","#f58e48","#5a78e0","#4fb85c","#e8325f"]}, "legend": null}}},
  {"mark": {"type": "line", "strokeWidth": 2.2},
   "encoding": {"y": {"field": "v", "type": "quantitative", "title": "Prob"},
    "color": {"field": "k", "type": "nominal", "scale": {"domain": ["over 4.5","over 7.5","over 10.5","over 13.5","over 16.5","over 19.5","over 22.5"], "range": ["#e8325f","#4fb85c","#5a78e0","#f58e48","#9a3fc4","#55d8f2","#e448e0"]}, "legend": {"orient": "top-right", "offset": 7, "columns": 4, "title": null, "symbolType": "M-1,0H4.4", "symbolSize": 100, "symbolStrokeWidth": 2.2, "labelFontSize": 12, "labelFont": "DejaVu Sans", "labelColor": "#000000", "labelOffset": 25, "labelLimit": 400, "columnPadding": 20, "rowPadding": 6, "padding": 5, "fillColor": "rgba(255,255,255,0.85)", "strokeColor": "#cccccc", "cornerRadius": 3}}}}
 ]
},
{
 "title": {"text": "WILLY HUTCHINSON — Power Head Strikes Landed R8 Over (Event 16279)", "offset": 3},
 "width": 1985, "height": 466,
 "data": {"name": "willy"},
 "encoding": {"x": {"field": "t", "type": "quantitative", "scale": {"domain": [-9, 189], "nice": false, "zero": false}, "axis": {"values": [0,25,50,75,100,125,150,175], "tickCount": 20, "labels": false, "title": null, "grid": false}}},
 "layer": [
  {"mark": {"type": "area", "fillOpacity": 0.1},
   "encoding": {
    "y": {"field": "l", "type": "quantitative", "title": "Prob", "scale": {"domain": [0, 1.15], "nice": false, "zero": false}, "axis": {"values": [0,0.05,0.1,0.15,0.2,0.25,0.3,0.35,0.4,0.45,0.5,0.55,0.6,0.65,0.7,0.75,0.8,0.85,0.9,0.95,1,1.05,1.1,1.15], "tickCount": 40, "format": ".2f", "titlePadding": 10, "grid": true, "labelOverlap": false}},
    "y2": {"field": "v"},
    "fill": {"field": "k", "type": "nominal", "scale": {"domain": ["over 7.5","over 4.5","over 13.5","over 10.5","over 19.5","over 16.5","over 22.5"], "range": ["#4fb85c","#e8325f","#f58e48","#5a78e0","#55d8f2","#9a3fc4","#e448e0"]}, "legend": null}}},
  {"mark": {"type": "line", "strokeWidth": 1.3, "strokeDash": [1.3, 2.2], "opacity": 0.8},
   "encoding": {"y": {"field": "l", "type": "quantitative", "title": "Prob"}, "stroke": {"field": "k", "type": "nominal", "scale": {"domain": ["over 22.5","over 19.5","over 16.5","over 13.5","over 10.5","over 7.5","over 4.5"], "range": ["#e448e0","#55d8f2","#9a3fc4","#f58e48","#5a78e0","#4fb85c","#e8325f"]}, "legend": null}}},
  {"mark": {"type": "line", "strokeWidth": 2.2},
   "encoding": {"y": {"field": "v", "type": "quantitative", "title": "Prob"},
    "color": {"field": "k", "type": "nominal", "scale": {"domain": ["over 4.5","over 7.5","over 10.5","over 13.5","over 16.5","over 19.5","over 22.5"], "range": ["#e8325f","#4fb85c","#5a78e0","#f58e48","#9a3fc4","#55d8f2","#e448e0"]}, "legend": {"orient": "top-right", "offset": 7, "columns": 4, "title": null, "symbolType": "M-1,0H4.4", "symbolSize": 100, "symbolStrokeWidth": 2.2, "labelFontSize": 12, "labelFont": "DejaVu Sans", "labelColor": "#000000", "labelOffset": 25, "labelLimit": 400, "columnPadding": 20, "rowPadding": 6, "padding": 5, "fillColor": "rgba(255,255,255,0.85)", "strokeColor": "#cccccc", "cornerRadius": 3}}}}
 ]
},
{
 "width": 1985, "height": 312,
 "encoding": {"x": {"field": "t", "type": "quantitative", "scale": {"domain": [-9, 189], "nice": false, "zero": false}, "axis": {"values": [0,25,50,75,100,125,150,175], "tickCount": 20, "format": "d", "title": "Round time (seconds)", "titleFontSize": 20.8, "titlePadding": 6, "labelPadding": 5, "grid": false, "labelOverlap": false}}},
 "layer": [
  {"data": {"name": "extragrid"},
   "mark": {"type": "rule", "color": "#e2e2e2", "strokeWidth": 1},
   "encoding": {"y": {"field": "g", "type": "quantitative", "title": "Count", "scale": {"domain": [-0.83, 17.1], "nice": false, "zero": false}, "axis": {"values": [0,2,4,6,8,10,12,14,16], "tickCount": 20, "format": "d", "titleFontSize": 15.5, "titlePadding": 10, "grid": true, "labelOverlap": false}}}},
  {"data": {"name": "bands"}, "transform": [{"filter": "datum.w == 'E'"}],
   "mark": {"type": "area", "color": "#ff0000", "fillOpacity": 0.14, "stroke": "#ff0000", "strokeOpacity": 0.14, "strokeWidth": 1},
   "encoding": {"y": {"field": "lo", "type": "quantitative", "title": "Count"}, "y2": {"field": "hi"}}},
  {"data": {"name": "bands"}, "transform": [{"filter": "datum.w == 'W'"}],
   "mark": {"type": "area", "color": "#0000ff", "fillOpacity": 0.13, "stroke": "#0000ff", "strokeOpacity": 0.13, "strokeWidth": 1},
   "encoding": {"y": {"field": "lo", "type": "quantitative", "title": "Count"}, "y2": {"field": "hi"}}},
  {"data": {"name": "lines"},
   "mark": {"type": "line", "strokeWidth": 3},
   "encoding": {
    "y": {"field": "v", "type": "quantitative", "title": "Count"},
    "color": {"field": "s", "type": "nominal", "scale": {"domain": ["Truth EZRA TAYLOR: 3","Truth WILLY HUTCHINSON: 5","Predicted EZRA TAYLOR: 7.8","Predicted WILLY HUTCHINSON: 6.5"], "range": ["#ff0000","#0000ff","#ff0000","#0000ff"]}, "legend": {"orient": "top-left", "offset": 7, "title": null, "symbolType": "M-1,0H5.4", "symbolSize": 100, "symbolStrokeWidth": 3, "labelFontSize": 14, "labelFont": "DejaVu Sans", "labelColor": "#000000", "labelOffset": 31, "labelLimit": 500, "rowPadding": 8, "padding": 6, "fillColor": "white", "strokeColor": "#cccccc", "cornerRadius": 4}},
    "strokeDash": {"field": "s", "type": "nominal", "scale": {"domain": ["Truth EZRA TAYLOR: 3","Truth WILLY HUTCHINSON: 5","Predicted EZRA TAYLOR: 7.8","Predicted WILLY HUTCHINSON: 6.5"], "range": [[1,0],[1,0],[3,5],[3,5]]}, "legend": {"orient": "top-left", "offset": 7, "title": null, "symbolType": "M-1,0H5.4", "symbolSize": 100, "symbolStrokeWidth": 3, "labelFontSize": 14, "labelFont": "DejaVu Sans", "labelColor": "#000000", "labelOffset": 31, "labelLimit": 500, "rowPadding": 8, "padding": 6, "fillColor": "white", "strokeColor": "#cccccc", "cornerRadius": 4}},
    "opacity": {"field": "s", "type": "nominal", "scale": {"domain": ["Truth EZRA TAYLOR: 3","Truth WILLY HUTCHINSON: 5","Predicted EZRA TAYLOR: 7.8","Predicted WILLY HUTCHINSON: 6.5"], "range": [0.75,0.75,0.6,0.6]}, "legend": {"orient": "top-left", "offset": 7, "title": null, "symbolType": "M-1,0H5.4", "symbolSize": 100, "symbolStrokeWidth": 3, "labelFontSize": 14, "labelFont": "DejaVu Sans", "labelColor": "#000000", "labelOffset": 31, "labelLimit": 500, "rowPadding": 8, "padding": 6, "fillColor": "white", "strokeColor": "#cccccc", "cornerRadius": 4}}
   }}
 ]
}
]
}
